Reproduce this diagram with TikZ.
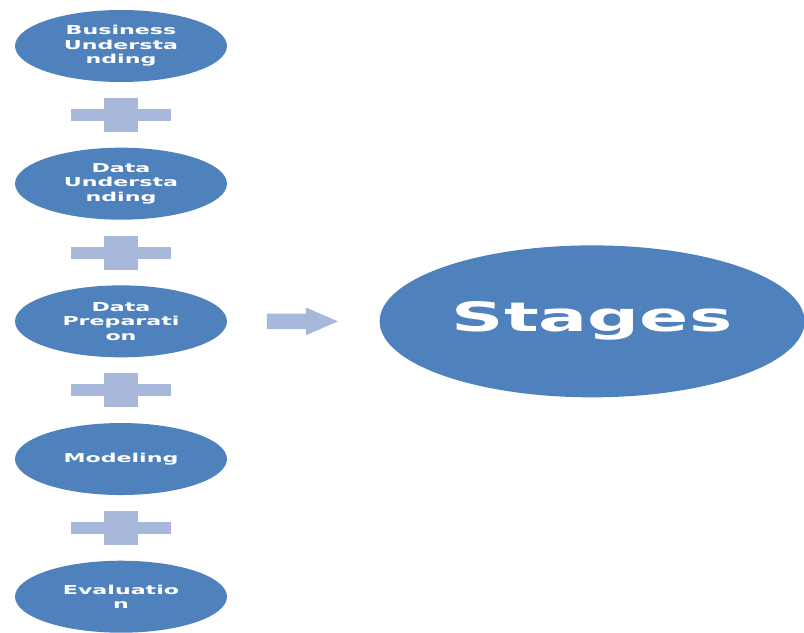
\documentclass[tikz,border=0pt]{standalone}
\usepackage{fontspec}
\newfontfamily\stagefont[FakeStretch=1.8]{DejaVu Sans}
\usetikzlibrary{positioning}
\usetikzlibrary{shapes,calc}

\definecolor{stageblue}{RGB}{79,129,189}
\definecolor{crossgrey}{RGB}{167,184,219}

\tikzset{
  crossbar/.pic={
    \fill[crossgrey] (-50,-6) rectangle (50,6);
    \fill[crossgrey] (-17,-17) rectangle (17,17);
  }
}

\begin{document}
\begin{tikzpicture}[x=0.02cm,y=-0.02cm,
  stage/.style={ellipse,fill=stageblue,text=white,inner sep=0pt,align=center,
    minimum width=4.24cm,minimum height=1.44cm,
    font=\stagefont\bfseries\fontsize{7}{8.3}\selectfont},
  big stage/.style={stage,minimum width=8.5cm,minimum height=3.04cm,
    font=\stagefont\bfseries\fontsize{23}{27}\selectfont},
  block arrow/.style={single arrow,fill=crossgrey,draw=none,inner sep=0.15cm,
    minimum height=1.42cm,single arrow head extend=0.12cm,single arrow tip angle=47}]
\useasboundingbox[fill=white] (0,0) rectangle (804,632);

\node[stage] (business understanding) at (121,46) {Business\\Understa\\nding};
\node[stage] (data understanding) [below=1.3cm of business understanding] {Data\\Understa\\nding};
\node[stage] (data preparation) [below=1.3cm of data understanding] {Data\\Preparati\\on};
\node[stage] (modeling) [below=1.3cm of data preparation] {Modeling};
\node[stage] (evaluation) [below=1.3cm of modeling] {Evaluatio\\n};

\node[big stage] (stages) [right=3.04cm of data preparation] {Stages};

% plus signs between the steps
\pic at ($(business understanding)!0.5!(data understanding)$) {crossbar};
\pic at ($(data understanding)!0.5!(data preparation)$) {crossbar};
\pic at ($(data preparation)!0.5!(modeling)$) {crossbar};
\pic at ($(modeling)!0.5!(evaluation)$) {crossbar};

\node[block arrow,xshift=-0.2cm] (to stages) at ($(data preparation.east)!0.5!(stages.west)$) {};
\end{tikzpicture}
\end{document}
